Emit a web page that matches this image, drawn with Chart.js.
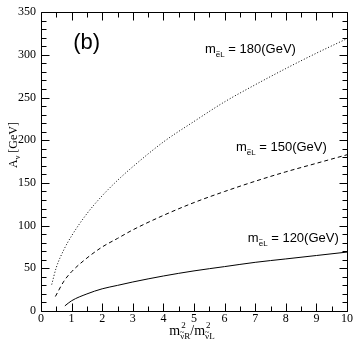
<!DOCTYPE html>
<html>
<head>
<meta charset="utf-8">
<script src="https://cdn.jsdelivr.net/npm/chart.js@4.4.1/dist/chart.umd.min.js"></script>
<style>
  html, body { margin: 0; padding: 0; background: #fff; }
  #wrap { width: 354px; height: 343px; }
</style>
</head>
<body>
<div id="wrap"><canvas id="chart"></canvas></div>
<script>
// m_eL = 180 GeV (dotted)
const x180 = [0.35, 0.5, 0.75, 1, 1.5, 2, 2.5, 3, 4, 5, 6, 7, 8, 9, 10];
const a180 = [31, 51, 72, 88, 114, 135, 153, 169, 198, 222, 245, 265, 284, 302, 319];
// m_eL = 150 GeV (dashed)
const x150 = [0.47, 0.75, 1, 1.5, 2, 2.5, 3, 4, 5, 6, 7, 8, 9, 10];
const a150 = [17, 35, 46, 62, 75, 85, 95, 112, 127, 140, 152, 163, 173, 183];
// m_eL = 120 GeV (solid)
const x120 = [0.78, 1, 1.5, 2, 2.5, 3, 4, 5, 6, 7, 8, 9, 10];
const a120 = [6, 12, 20, 26, 30, 34, 41, 47, 52, 57, 61, 65, 69];

const xTicks = [0, 1, 2, 3, 4, 5, 6, 7, 8, 9, 10];
const yTicks = [0, 50, 100, 150, 200, 250, 300, 350];

// curve labels: [mass, x value, y value]
const labels = [['180', 5.36, 308], ['150', 6.37, 193], ['120', 6.76, 87]];

const toPts = (xs, ys) => xs.map((v, i) => ({ x: v, y: ys[i] }));

function line(data, dash) {
  return {
    data: data,
    showLine: true,
    borderColor: '#000',
    borderWidth: 1,
    borderDash: dash,
    pointRadius: 0,
    cubicInterpolationMode: 'monotone',
    fill: false
  };
}

// text piece: [text, size, yShift, tilde?]
function rich(ctx, parts, x, y, family, draw) {
  let cx = x;
  parts.forEach(p => {
    ctx.font = p[1] + 'px ' + family;
    const w = ctx.measureText(p[0]).width;
    if (draw) {
      ctx.fillText(p[0], cx, y + p[2]);
      if (p[3]) {
        // small tilde over the first letter
        const cw = ctx.measureText(p[0][0]).width;
        ctx.font = Math.round(p[1] * 0.9) + 'px ' + family;
        const tw = ctx.measureText('~').width;
        ctx.fillText('~', cx + cw / 2 - tw / 2, y + p[2] - p[1] * 0.42);
      }
    }
    cx += w;
  });
  return cx - x;
}

const decor = {
  id: 'decor',
  afterDraw(chart) {
    const { ctx, chartArea: a } = chart;
    const x = chart.scales.x, y = chart.scales.y;
    const L = Math.round(a.left) + 0.5, R = Math.round(a.right) + 0.5;
    const T = Math.round(a.top) + 0.5, B = Math.round(a.bottom) + 0.5;
    ctx.save();
    ctx.strokeStyle = '#000';
    ctx.lineWidth = 1;
    ctx.beginPath();
    ctx.rect(L, T, R - L, B - T);
    for (let v = 0; v <= 10; v += 0.5) {
      const px = Math.round(x.getPixelForValue(v)) + 0.5;
      const len = v % 1 === 0 ? 8 : 5;
      ctx.moveTo(px, B); ctx.lineTo(px, B - len);
      ctx.moveTo(px, T); ctx.lineTo(px, T + len);
    }
    for (let v = 0; v <= 350; v += 10) {
      const py = Math.round(y.getPixelForValue(v)) + 0.5;
      const len = v % 50 === 0 ? 8 : 5;
      ctx.moveTo(L, py); ctx.lineTo(L + len, py);
      ctx.moveTo(R, py); ctx.lineTo(R - len, py);
    }
    ctx.stroke();

    ctx.fillStyle = '#000';
    ctx.textBaseline = 'alphabetic';
    ctx.textAlign = 'left';
    const sans = '"Liberation Sans", Arial, sans-serif';
    const serif = '"Liberation Serif", "Times New Roman", serif';

    ctx.font = '22px ' + sans;
    ctx.fillText('(b)', x.getPixelForValue(1.05), y.getPixelForValue(313) + 5);

    labels.forEach(l => {
      const px = x.getPixelForValue(l[1]);
      const py = y.getPixelForValue(l[2]) + 5;
      rich(ctx, [['m', 13, 0], ['eL', 8, 4, true], [' = ' + l[0] + '(GeV)', 13, 0]], px, py, sans, true);
    });

    // x axis title
    const by = 335;
    const xParts = [['m', 14, 0], ['\u03bdR', 9, 4, true], ['/m', 14, 0], ['\u03bdL', 9, 4, true]];
    const w = rich(ctx, xParts, 0, 0, serif, false);
    let cx = (a.left + a.right) / 2 - w / 2 - 2;
    rich(ctx, xParts, cx, by, serif, true);
    ctx.font = '14px ' + serif;
    const mW = ctx.measureText('m').width;
    const slashM = ctx.measureText('/m').width;
    ctx.font = '9px ' + serif;
    const subW = ctx.measureText('\u03bdR').width;
    ctx.fillText('2', cx + mW + 1, by - 7);
    ctx.fillText('2', cx + mW + subW + slashM + 1, by - 7);

    // y axis title
    ctx.translate(17, 145);
    ctx.rotate(-Math.PI / 2);
    const yParts = [['A', 12, 0], ['\u03bd', 8, 3], [' [GeV]', 12, 0]];
    const yw = rich(ctx, yParts, 0, 0, serif, false);
    rich(ctx, yParts, -yw / 2, 0, serif, true);
    ctx.restore();
  }
};

new Chart(document.getElementById('chart'), {
  type: 'scatter',
  data: {
    datasets: [
      line(toPts(x180, a180), [1, 2]),
      line(toPts(x150, a150), [4, 3]),
      line(toPts(x120, a120), [])
    ]
  },
  options: {
    responsive: true,
    maintainAspectRatio: false,
    animation: false,
    layout: { padding: { top: 5, right: 7, left: 0, bottom: 0 } },
    plugins: { legend: { display: false }, tooltip: { enabled: false } },
    scales: {
      x: {
        type: 'linear',
        min: 0, max: 10,
        afterBuildTicks: s => { s.ticks = xTicks.map(v => ({ value: v })); },
        afterFit: s => { s.height = 32; },
        grid: { display: false, drawTicks: false },
        border: { display: false },
        ticks: {
          color: '#000',
          padding: 1,
          maxRotation: 0,
          font: { family: '"Liberation Serif", serif', size: 12 }
        }
      },
      y: {
        type: 'linear',
        min: 0, max: 350,
        afterBuildTicks: s => { s.ticks = yTicks.map(v => ({ value: v })); },
        afterFit: s => { s.width = 41; },
        grid: { display: false, drawTicks: false },
        border: { display: false },
        ticks: {
          color: '#000',
          padding: 5,
          font: { family: '"Liberation Serif", serif', size: 12 }
        }
      }
    }
  },
  plugins: [decor]
});
</script>
</body>
</html>
